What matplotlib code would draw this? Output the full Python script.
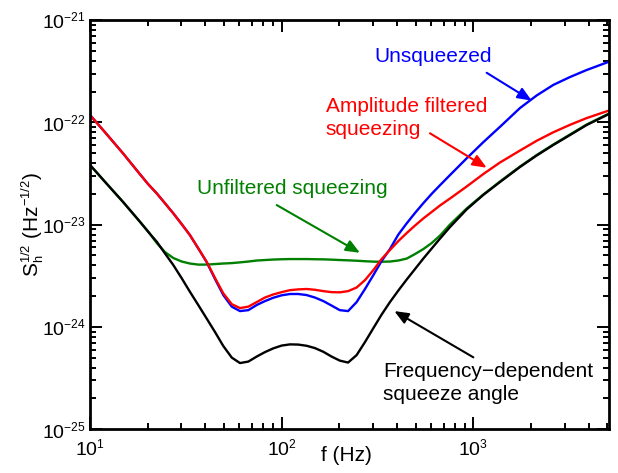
import matplotlib
matplotlib.use("Agg")
import matplotlib.pyplot as plt
import matplotlib._mathtext as _mt
from matplotlib.ticker import LogLocator, NullFormatter, LogFormatterMathtext

_mt.SHRINK_FACTOR = 0.62

plt.rcParams['font.family'] = ['Liberation Sans', 'DejaVu Sans']
plt.rcParams['mathtext.fontset'] = 'custom'
plt.rcParams['mathtext.rm'] = 'Liberation Sans'
plt.rcParams['mathtext.it'] = 'Liberation Sans:italic'
plt.rcParams['mathtext.bf'] = 'Liberation Sans:bold'

# Major tick positions
x_ticks = [10, 100, 1000]
y_ticks = [1e-25, 1e-24, 1e-23, 1e-22, 1e-21]

# Frequency grid (Hz)
freq = [10.0, 12.2, 14.9, 18.2, 20.1, 22.3, 24.6, 27.2, 30.1, 33.2,
        36.7, 40.6, 44.9, 49.6, 54.9, 60.6, 67.0, 74.1, 81.8, 90.4,
        100, 110.5, 122, 135, 149, 165, 182, 201, 222, 246,
        272, 301, 332, 367, 406, 449, 496, 548, 606, 670,
        755, 923, 1126, 1377, 1751, 2139, 2611, 3191, 3899, 5100]

# Strain noise amplitude spectral densities (1/sqrt(Hz))
unsqueezed = [1.179e-22, 7.68e-23, 4.95e-23, 3.12e-23, 2.49e-23, 2.02e-23, 1.62e-23, 1.29e-23, 1.01e-23, 7.91e-24,
              5.87e-24, 4.31e-24, 2.94e-24, 2.05e-24, 1.58e-24, 1.43e-24, 1.46e-24, 1.64e-24, 1.79e-24, 1.93e-24,
              2.04e-24, 2.10e-24, 2.10e-24, 2.05e-24, 1.94e-24, 1.79e-24, 1.62e-24, 1.46e-24, 1.43e-24, 1.75e-24,
              2.35e-24, 3.22e-24, 4.41e-24, 5.77e-24, 8.00e-24, 1.03e-23, 1.30e-23, 1.62e-23, 2.00e-23, 2.43e-23,
              3.05e-23, 4.45e-23, 6.39e-23, 9.04e-23, 1.38e-22, 1.83e-22, 2.32e-22, 2.77e-22, 3.245e-22, 3.912e-22]

amp_filtered = [1.179e-22, 7.68e-23, 4.95e-23, 3.12e-23, 2.49e-23, 2.02e-23, 1.62e-23, 1.29e-23, 1.01e-23, 7.91e-24,
                5.87e-24, 4.34e-24, 3.01e-24, 2.13e-24, 1.67e-24, 1.53e-24, 1.58e-24, 1.75e-24, 1.94e-24, 2.08e-24,
                2.19e-24, 2.29e-24, 2.33e-24, 2.35e-24, 2.31e-24, 2.24e-24, 2.19e-24, 2.18e-24, 2.24e-24, 2.43e-24,
                2.87e-24, 3.60e-24, 4.61e-24, 5.65e-24, 6.91e-24, 8.28e-24, 9.80e-24, 1.15e-23, 1.33e-23, 1.54e-23,
                1.80e-23, 2.36e-23, 3.12e-23, 4.05e-23, 5.30e-23, 6.60e-23, 7.99e-23, 9.45e-23, 1.10e-22, 1.305e-22]

unfiltered = [3.83e-23, 2.52e-23, 1.66e-23, 1.07e-23, 8.60e-24, 6.61e-24, 5.40e-24, 4.72e-24, 4.36e-24, 4.17e-24,
              4.07e-24, 4.07e-24, 4.12e-24, 4.17e-24, 4.21e-24, 4.28e-24, 4.36e-24, 4.46e-24, 4.51e-24, 4.56e-24,
              4.59e-24, 4.61e-24, 4.61e-24, 4.61e-24, 4.59e-24, 4.58e-24, 4.55e-24, 4.51e-24, 4.48e-24, 4.44e-24,
              4.39e-24, 4.35e-24, 4.34e-24, 4.36e-24, 4.46e-24, 4.66e-24, 5.16e-24, 5.77e-24, 6.61e-24, 7.82e-24,
              1.002e-23, 1.44e-23, 1.97e-23, 2.64e-23, 3.70e-23, 4.79e-23, 6.07e-23, 7.60e-23, 9.52e-23, 1.219e-22]

freq_dep = [3.83e-23, 2.52e-23, 1.66e-23, 1.07e-23, 8.52e-24, 6.81e-24, 5.24e-24, 4.03e-24, 2.99e-24, 2.21e-24,
            1.64e-24, 1.21e-24, 8.92e-25, 6.51e-25, 5.02e-25, 4.44e-25, 4.59e-25, 5.14e-25, 5.68e-25, 6.18e-25,
            6.58e-25, 6.76e-25, 6.73e-25, 6.55e-25, 6.22e-25, 5.72e-25, 5.14e-25, 4.69e-25, 4.49e-25, 5.31e-25,
            7.12e-25, 9.76e-25, 1.32e-24, 1.75e-24, 2.27e-24, 2.91e-24, 3.68e-24, 4.66e-24, 5.84e-24, 7.31e-24,
            9.47e-24, 1.41e-23, 1.95e-23, 2.61e-23, 3.66e-23, 4.74e-23, 6.00e-23, 7.51e-23, 9.41e-23, 1.206e-22]

labels = ["Unsqueezed", "Amplitude filtered\nsqueezing", "Unfiltered squeezing",
          "Frequency\u2212dependent\nsqueeze angle"]

fig = plt.figure(figsize=(6.18, 4.73), dpi=100)
ax = fig.add_axes([90 / 618, (473 - 429.3) / 473, 519 / 618, 409.3 / 473])

lw = 1.7
ax.plot(freq, unfiltered, color='#008000', lw=lw, solid_joinstyle='round')
ax.plot(freq, unsqueezed, color='#0000ff', lw=lw, solid_joinstyle='round')
ax.plot(freq, amp_filtered, color='#ff0000', lw=lw, solid_joinstyle='round')
ax.plot(freq, freq_dep, color='black', lw=lw, solid_joinstyle='round')

ax.set_xscale('log')
ax.set_yscale('log')
ax.set_xlim(10, 5100)
ax.set_ylim(1e-25, 1e-21)

ax.set_xticks(x_ticks)
ax.set_yticks(y_ticks)
ax.xaxis.set_major_formatter(LogFormatterMathtext())
ax.yaxis.set_major_formatter(LogFormatterMathtext())
ax.xaxis.set_minor_locator(LogLocator(base=10, subs=range(2, 10), numticks=20))
ax.yaxis.set_minor_locator(LogLocator(base=10, subs=range(2, 10), numticks=20))
ax.xaxis.set_minor_formatter(NullFormatter())
ax.yaxis.set_minor_formatter(NullFormatter())
ax.set_xlim(10, 5100)
ax.set_ylim(1e-25, 1e-21)

for s in ax.spines.values():
    s.set_linewidth(2.0)
ax.tick_params(which='both', direction='in', top=True, right=True, width=1.4,
               labelsize=14)
ax.tick_params(which='major', length=8.5)
ax.tick_params(which='minor', length=4.5)
ax.tick_params(axis='y', pad=3)
ax.tick_params(axis='x', pad=6)

ax.set_xlabel('f (Hz)', fontsize=15)
ax.xaxis.set_label_coords(0.4946, -0.042)
ax.set_ylabel(r'$\mathrm{S_h^{1/2}\ (Hz^{-1/2})}$', fontsize=15)
ax.yaxis.set_label_coords(-0.085, 0.5)

fs = 15
ax.text(303, 4.35e-22, labels[0], color='#0000ff', fontsize=fs, ha='left', va='center')
ax.text(170, 1.094e-22, labels[1], color='#ff0000', fontsize=fs, ha='left', va='center',
        linespacing=1.25)
ax.text(36.0, 2.28e-23, labels[2], color='#008000', fontsize=fs, ha='left', va='center')
ax.text(339, 2.84e-25, labels[3], color='black', fontsize=fs, ha='left', va='center',
        linespacing=1.25)

astyle = '-|>,head_length=0.6,head_width=0.25'
def arrow(tail, head, color):
    ax.annotate('', xy=head, xytext=tail,
                arrowprops=dict(arrowstyle=astyle, color=color, lw=1.5,
                                mutation_scale=14, shrinkA=0, shrinkB=0))

arrow((1173, 3.05e-22), (2015, 1.63e-22), '#0000ff')
arrow((594, 7.81e-23), (1173, 3.6e-23), '#ff0000')
arrow((94.2, 1.554e-23), (256, 5.31e-24), '#008000')
arrow((1000, 5.05e-25), (387, 1.43e-24), 'black')

fig.savefig('out.png', dpi=100)
